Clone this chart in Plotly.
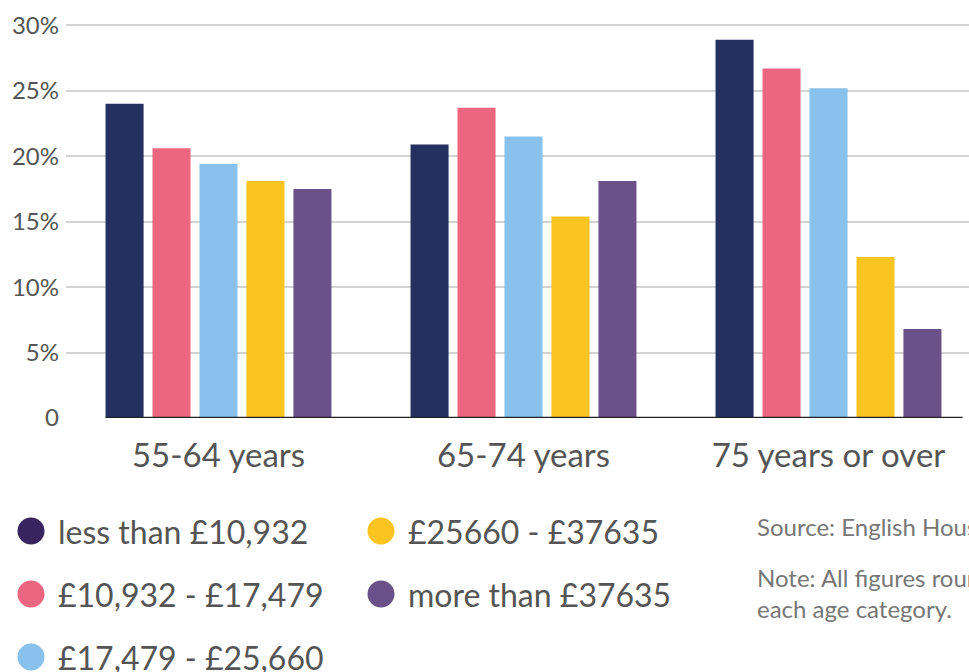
import plotly.graph_objects as go

# data (percent of households)
age_groups = ["55-64 years", "65-74 years", "75 years or over"]
income_bands = ["less than £10,932", "£10,932 - £17,479", "£17,479 - £25,660",
                "£25660 - £37635", "more than £37635"]
under_10932 = [24.0, 20.9, 28.9]
from_10932 = [20.6, 23.7, 26.7]
from_17479 = [19.4, 21.5, 25.2]
from_25660 = [18.1, 15.4, 12.3]
over_37635 = [17.5, 18.1, 6.8]
series = [under_10932, from_10932, from_17479, from_25660, over_37635]

y_ticks = [0, 5, 10, 15, 20, 25, 30]
y_tick_text = ["0", "5%", "10%", "15%", "20%", "25%", "30%"]

bar_colors = ["#243060", "#ec6681", "#88c1eb", "#fcc420", "#6a5189"]
dot_colors = ["#38255f", "#ec6681", "#88c1eb", "#fcc420", "#6a5189"]

W, H = 969, 672
L, T, B = 66, 24, 254
PW, PH = W - L, H - T - B
FONT = "Lato"


def px(x):
    return (x - L) / PW


def py(y):
    return (H - B - y) / PH


fig = go.Figure()
for name, vals, col in zip(income_bands, series, bar_colors):
    fig.add_trace(go.Bar(x=age_groups, y=vals, name=name,
                         marker=dict(color=col, line_width=0),
                         showlegend=False))

fig.update_layout(
    width=W, height=H,
    margin=dict(l=L, r=0, t=T, b=B),
    plot_bgcolor="white", paper_bgcolor="white",
    barmode="group", bargap=0.23, bargroupgap=0.19,
    font=dict(family=FONT, color="#555555"),
)
fig.update_xaxes(range=[-0.5, -0.5 + PW / 305], showgrid=False, showline=False,
                 ticks="", tickfont=dict(size=33, color="#555555"),
                 ticklabelstandoff=15)
fig.update_yaxes(range=[0, 30.1], tickvals=y_ticks, ticktext=y_tick_text,
                 showgrid=True, gridcolor="#d3d3d3", gridwidth=1.5,
                 zeroline=True, zerolinecolor="white", zerolinewidth=2,
                 showline=False, ticks="", ticklabelstandoff=6,
                 tickfont=dict(size=24, color="#555555"))

# baseline under the bars
fig.add_shape(type="line", xref="x", yref="y", x0=-0.37, x1=2.44, y0=0, y1=0,
              line=dict(color="#222222", width=2.5), layer="above")

# custom legend, two columns
legend_pos = [(31, 531), (31, 594), (31, 657), (381, 531), (381, 594)]
for name, col, (cx, cy) in zip(income_bands, dot_colors, legend_pos):
    fig.add_shape(type="circle", xref="paper", yref="paper",
                  xsizemode="pixel", ysizemode="pixel",
                  xanchor=px(cx), yanchor=py(cy),
                  x0=-13.5, x1=13.5, y0=-13.5, y1=13.5,
                  fillcolor=col, line_width=0)
    fig.add_annotation(x=px(cx + 25), y=py(cy), xref="paper", yref="paper",
                       text=name, showarrow=False, xanchor="left", yanchor="middle",
                       font=dict(size=32, color="#555555"))

notes = [("Source: English Housing Survey", 526),
         ("Note: All figures rounded and shown as a share of", 577),
         ("each age category.", 608)]
for txt, y in notes:
    fig.add_annotation(x=px(755), y=py(y), xref="paper", yref="paper",
                       text=txt, showarrow=False, xanchor="left", yanchor="middle",
                       font=dict(size=24, color="#777777"))

fig.write_html("out.html", config={"displayModeBar": False},
               post_script="document.body.style.margin='0';")
